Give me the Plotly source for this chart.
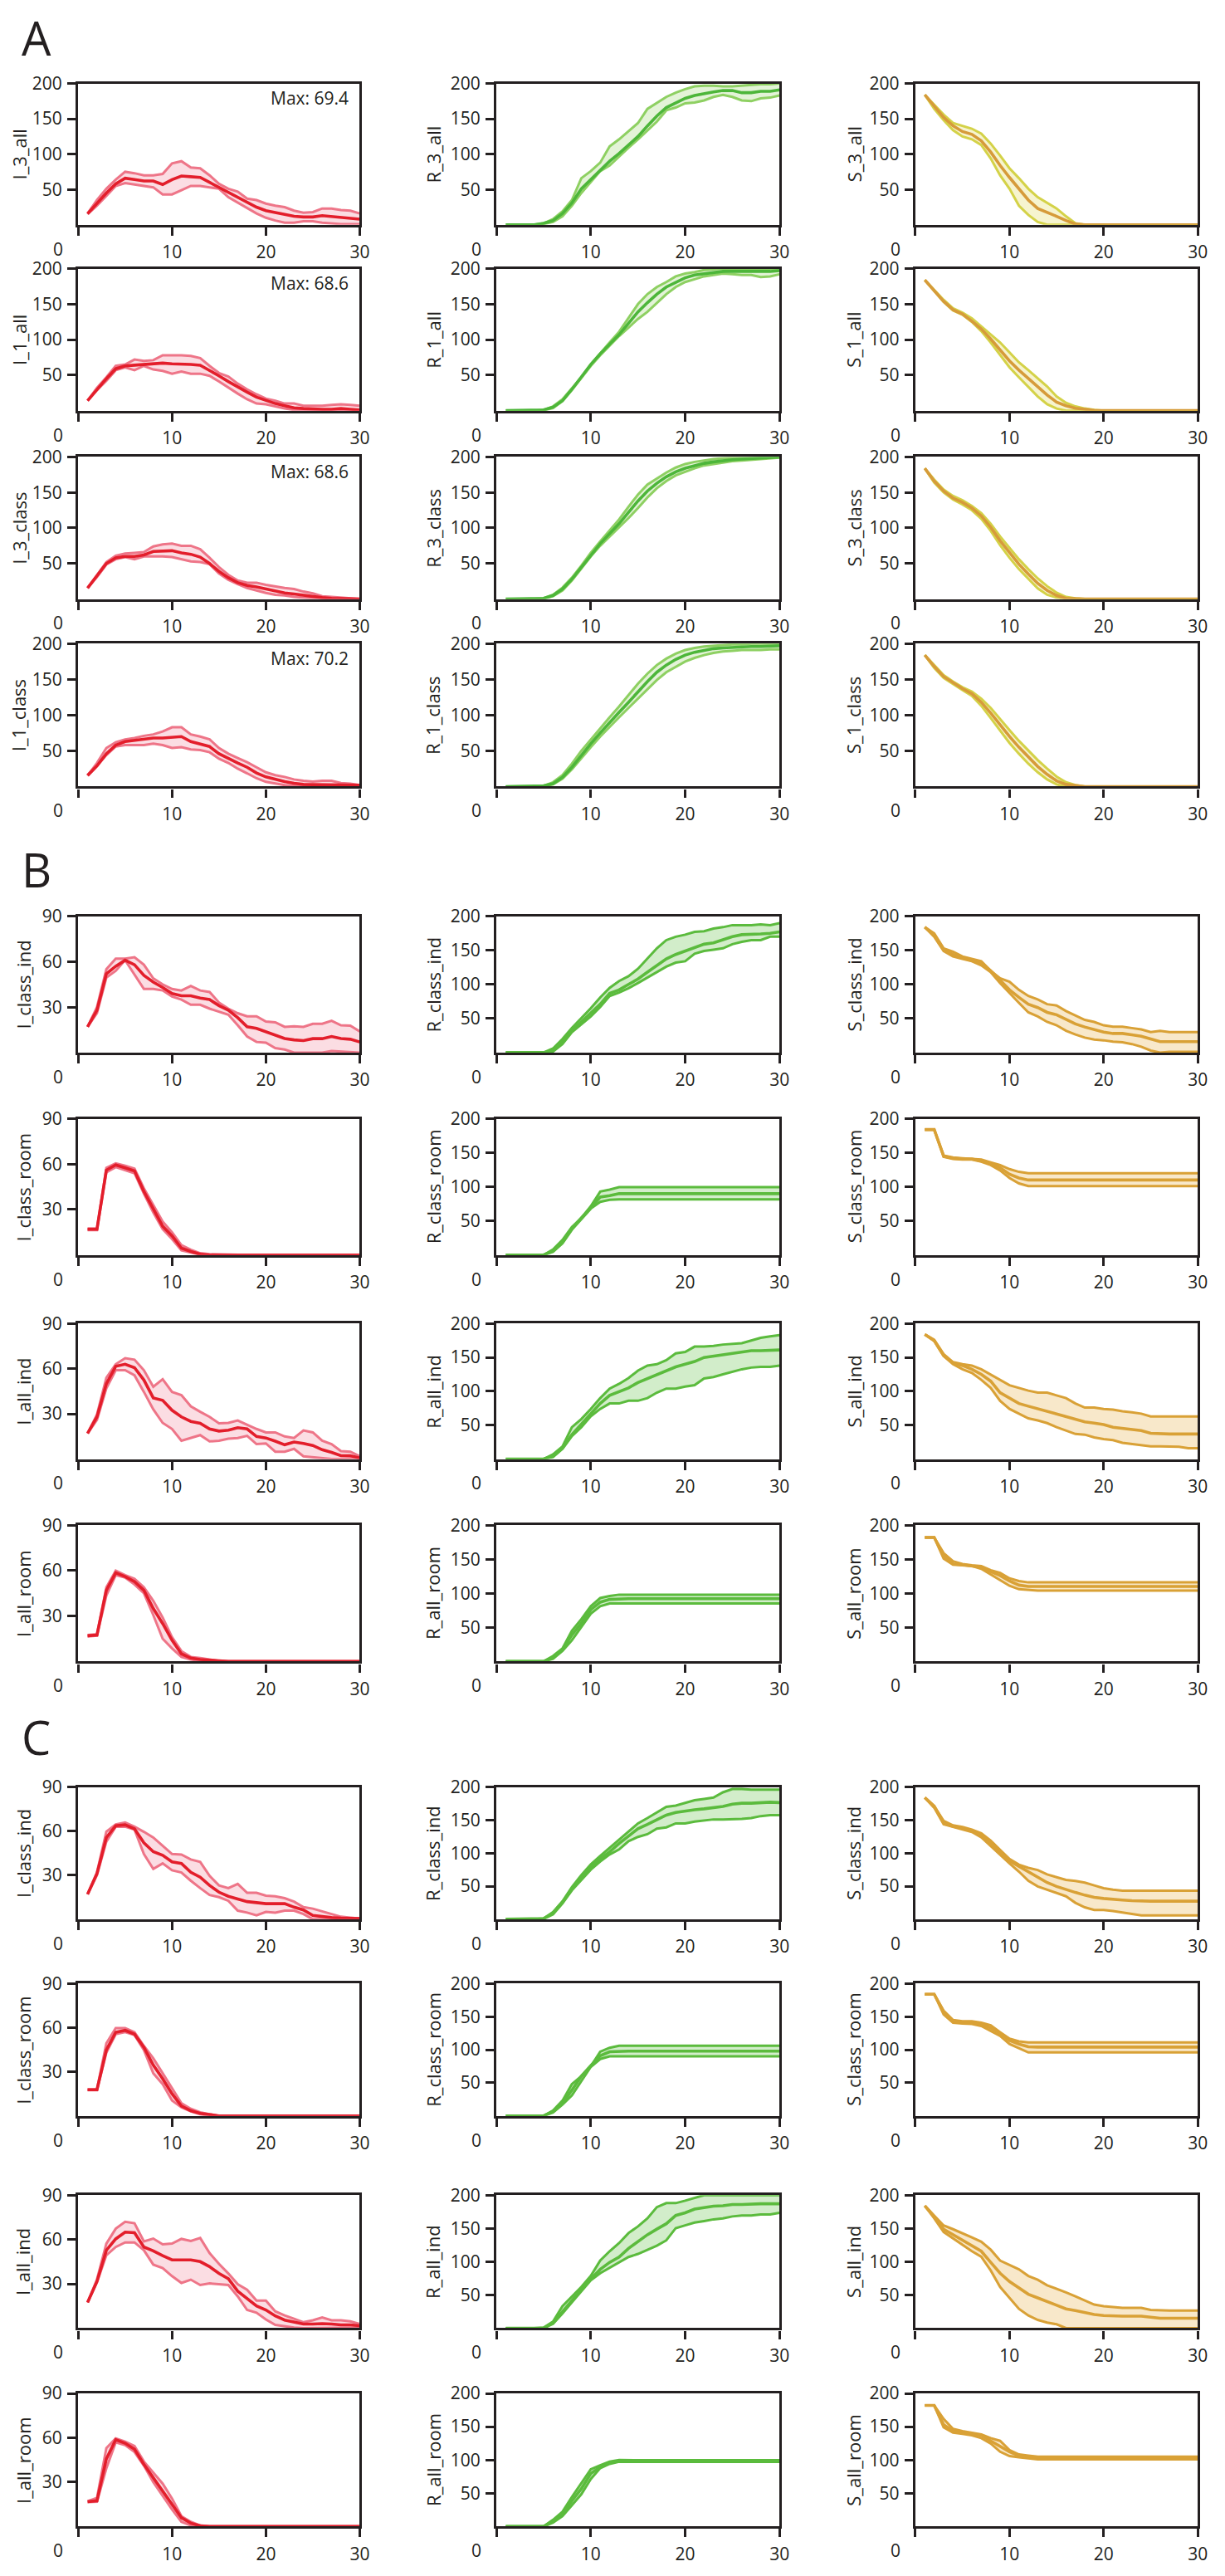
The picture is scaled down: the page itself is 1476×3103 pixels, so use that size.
import plotly.graph_objects as go

W, H = 1476, 3103
FONT = "Open Sans"
INK = "#231F20"
FS = 21

DAYS = list(range(1, 31))

# ---------------- Panel A ----------------
A_I3all_mid = [15.6,31,45,58,66,64,62,62,57,64,69,68,67,60,53,45,38,31,25,20,17,14,12,11,11,13,12,10.5,10,8]
A_I3all_hi = [16,35,51,64,75,73,70,70,72,87,90,81,80,70,58,51,47,37,35,30,27,25,20,17,18,23,23,21,20,16]
A_I3all_lo = [15,27,41,55,59,57,55,53,43,43,49,55,55,53,51,39,31,23,16,10,6,3,3,5,5,3,2,1,1,1]

A_I1all_mid = [14,30,45,59,63,64,65,65,67,66,66,65,64,57,49,41,33,26,19,14,10,7,4,3,2,2,2,3,2,1]
A_I1all_hi = [14,32,47,63,65,72,70,71,78,78,78,77,74,63,53,48,38,30,23,17,14,10,10,7,7,7,8,9,8,7]
A_I1all_lo = [14,29,42,57,61,57,63,58,56,52,55,52,52,49,41,32,24,16,10,9,6,3,1,0,0,0,0,0,0,0]

A_I3class_mid = [15.5,33,50,58,60,60,62,67,68,68,65,63,59,50,39,30,23,19,17,14,11,8.5,7,5,3,2,1,1,0.5,0]
A_I3class_hi = [15.5,34,52,61,64,65,66,74,77,78,75,75,70,58,45,34,26,23,23,20,17.5,15.5,14,10.5,8,4,3,2,1,0]
A_I3class_lo = [15.5,31,48.5,56,59,56,60,60,60,59,56,53,52,49,36,27,21,15.5,12,8.5,6,5,3,2,1,0,0,0,0,0]

A_I1class_mid = [15.5,29,46,58,63,65,66,68,68,69,70,63,60,56,46,39,33,27,19,13.5,10,7,4.6,3,2.7,2.7,2.7,2.7,2.7,2]
A_I1class_hi = [15.5,33,54,62,66,68,71,73,77,83,83,73,70,66,54,46,40,34,27,20,16,13.5,10,8,7,8,8,5,4,2]
A_I1class_lo = [15.5,29,44,56,58,58,58,60,58,54,55,52,51,48,39,33,25,18.5,11.6,6.6,4,2,1,0,0,0,0,0,0,0]

A_R3all_mid = [0,0,0,0,2,6,16,31,51,64,78,90,101,113,125,140,154,166,173,179,183,186,188,190,190,187,187,189,189,191]
A_R3all_hi = [0,0,0,0,2,8,19,35,66,76,88,111,121,133,144,164,173,181,187,192,196,197,197,196,196,197,198,199,199,200]
A_R3all_lo = [0,0,0,0,1,4,12,27,45,60,76,84,97,109,121,133,146,162,166,172,173,176,181,184,181,176,175,179,180,183]

A_R1all_mid = [0,0,0,0,1,5,14,30,47,65,80,94,107,123,139,152,164,174,181,187,191,193,195,196,196,196,196,195,196,197]
A_R1all_hi = [0,0,0,0,1,6,16,31,47,65,81,96,111,131,150,164,174,181,189,193,195,198,199,200,200,200,200,200,200,200]
A_R1all_lo = [0,0,0,0,0.5,3.5,13.5,29,46,63,78,92,105,117,129,139,152,164,174,181,185,189,191,193,192,191,191,188,189,192]

A_R3class_mid = [0,0,0,0,1,5,14,28,45,62,78,92,106,122,138,152,163,172,179,184,188,191,193,195,196,197,198,199,199,200]
A_R3class_hi = [0,0,0,0,1,6,16,30,47,65,81,96,112,130,147,161,170,178,185,190,193,195,197,198,199,200,200,200,200,200]
A_R3class_lo = [0,0,0,0,0.5,4,12,26,43,60,75,88,100,114,128,143,156,166,174,179,184,188,190,192,194,195,196,197,198,199]

A_R1class_mid = [0,0,0,0,1,4,13,27,44,60,75,90,104,118,133,147,160,170,178,184,188,191,193,194,195,196,196,196,197,197]
A_R1class_hi = [0,0,0,0,1,6,16,32,50,66,82,97,112,128,144,158,170,179,186,191,194,196,197,198,199,199,200,200,200,200]
A_R1class_lo = [0,0,0,0,0.5,3,11,24,40,55,70,84,97,110,123,137,149,160,168,175,180,184,187,189,190,191,191,191,192,192]

A_S3all_mid = [184,168,152,140,132,128,119,103,84,67,51,35,23,18,12,6,1,0,0,0,0,0,0,0,0,0,0,0,0,0]
A_S3all_hi = [184,170,156,144,140,136,129,115,98,80,66,51,39,31,23,12,2,0,0,0,0,0,0,0,0,0,0,0,0,0]
A_S3all_lo = [184,164,148,134,125,121,113,94,70,51,27,14,4,0,0,0,0,0,0,0,0,0,0,0,0,0,0,0,0,0]

A_S1all_mid = [184,169,154,142,136,126,115,101,86,70,57,45,34,22,12,7,3.5,1.5,0.5,0,0,0,0,0,0,0,0,0,0,0]
A_S1all_hi = [184,170,156,144,138,130,119,108,96,82,68,57,45,34,20,11,6,3,1,0,0,0,0,0,0,0,0,0,0,0]
A_S1all_lo = [184,168,153,141,135,125,112,96,78,61,47,34,20,9,3,0,0,0,0,0,0,0,0,0,0,0,0,0,0,0]

A_S3class_mid = [184,166,152,142,136,128,117,101,82,65,49,35,22,12,5,1,0,0,0,0,0,0,0,0,0,0,0,0,0,0]
A_S3class_hi = [184,168,154,145,139,131,121,106,88,72,56,42,29,18,9,3,1,0,0,0,0,0,0,0,0,0,0,0,0,0]
A_S3class_lo = [184,164,150,140,133,125,113,96,76,58,42,28,15,6,2,0,0,0,0,0,0,0,0,0,0,0,0,0,0,0]

A_S1class_mid = [184,168,154,145,137,130,118,103,86,70,55,41,28,17,8,3,1,0,0,0,0,0,0,0,0,0,0,0,0,0]
A_S1class_hi = [184,170,156,147,139,133,123,110,94,79,64,50,37,25,14,6,2,0,0,0,0,0,0,0,0,0,0,0,0,0]
A_S1class_lo = [184,166,152,143,135,127,113,96,78,61,46,32,20,10,3,0,0,0,0,0,0,0,0,0,0,0,0,0,0,0]

A_MAX = ["Max: 69.4", "Max: 68.6", "Max: 68.6", "Max: 70.2"]

# ---------------- Panel B ----------------
B_Iclassind_mid = [17,28,52,57,61,58,51,46.5,43,39,37.5,37.5,36,35,31,28,23,17,16,13.6,11.5,9.3,8.4,7.9,9.2,9.2,10.6,9.3,8.8,7]
B_Iclassind_hi = [17,30,55,62,62,63,58,49,45,42,41,44,41,40,33,29,26,24,24,20.5,20,17,17.4,17,19,19,21,18,17.8,14]
B_Iclassind_lo = [17,26,49.5,54,61,51.5,42,42,41,37,35,31.6,31.6,29,27,25,18,10.6,7,6.5,3,2,0,0,0.4,0,1,0.7,0.4,0]

B_Iclassroom_mid = [17,17,56,59.5,57.5,55.5,42,30,19,12.6,4.5,2.3,0.5,0,0,0,0,0,0,0,0,0,0,0,0,0,0,0,0,0]
B_Iclassroom_hi = [17.5,17.5,57.5,60.5,59,57,44,33,22,15,6.5,3.5,1.2,0.5,0.3,0,0,0,0,0,0,0,0,0,0,0,0,0,0,0]
B_Iclassroom_lo = [16.5,16.5,54.5,58,56,54,40.5,28,17,10.5,3,1.5,0.2,0,0,0,0,0,0,0,0,0,0,0,0,0,0,0,0,0]

B_Iallind_mid = [17,28,50,61.6,63,60.7,52.5,40.6,39,32.4,28,25,23.8,20,18.6,19.2,20.8,20,15,14,11.9,9.5,11.3,10.4,9,6.2,4.4,2.2,2.2,0.7]
B_Iallind_hi = [17,29.6,54,63,67,66,59,48,53,44.6,42.4,35,31.4,28,23.8,24,25.6,22.7,20,17.7,17.7,15,14,19,17.7,12.2,9.9,5.3,4.9,1.8]
B_Iallind_lo = [17,26,47,59,59,55.6,44.6,33,24,20,12.2,14,15.9,11.7,12.2,13.5,14,15.4,9.9,10.4,4.9,4.9,6.8,1.8,1.3,0.4,0,0,0.4,0]

B_Iallroom_mid = [17,17.4,47,58.5,56,52.7,47,35,25,14,5,2.2,1.3,0.7,0.4,0,0,0,0,0,0,0,0,0,0,0,0,0,0,0]
B_Iallroom_hi = [17.5,18,49,60,57,54.5,49,40,29,16,6.8,3,2.2,1.3,0.4,0,0,0,0,0,0,0,0,0,0,0,0,0,0,0]
B_Iallroom_lo = [16.5,17,43.5,57,55.4,50.8,45,30.6,15,8.6,3,1.3,0.4,0,0,0,0,0,0,0,0,0,0,0,0,0,0,0,0,0]

B_Rclassind_mid = [0,0,0,0,0,3,16,32,45,59,71,87,92,100,108,118,128,137.5,144,149,155,159,161,166,170,173,173,174,175,177]
B_Rclassind_hi = [0,0,0,0,0,6,20,36,50,65,81,95,105,112,123,137.5,153,165,170,173,177,178,182,184,187,187,187,188,187,190]
B_Rclassind_lo = [0,0,0,0,0,1.5,12.5,30,42,53,67,83,88,94.5,102,110,118,126,132,134,145,149,151,153,159,162.5,165,165,170,170]

B_Sclassind_mid = [184,172.6,150.8,144,139,135,131,120,106,92,81,71,66,59,55.5,49,42,37.5,33.6,30,28,28,26,24,20,16,16,16,16,16]
B_Sclassind_hi = [184,175,153,148,141,137.5,134,120,109,104,92,83,78,71,69,61,54,48,45,40,38,38,36,34,30,32,30,30,30,30]
B_Sclassind_lo = [184,170,149,141,137.5,134,128,118,102,87,73,59,53,45,40,32,26.5,22,19,18,16,15,12.5,8.6,3,0,1,1,1,1]

B_Rclassroom_mid = [0,0,0,0,0,6,19,39,54,70,85,87,90,90,90,90,90,90,90,90,90,90,90,90,90,90,90,90,90,90]
B_Rclassroom_hi = [0,0,0,0,0,8,22,41,54,71.5,93,96,99.5,99.5,99.5,99.5,99.5,99.5,99.5,99.5,99.5,99.5,99.5,99.5,99.5,99.5,99.5,99.5,99.5,99.5]
B_Rclassroom_lo = [0,0,0,0,0,4.5,17,37,53,68,78,81,81.5,81.5,81.5,81.5,81.5,81.5,81.5,81.5,81.5,81.5,81.5,81.5,81.5,81.5,81.5,81.5,81.5,81.5]

B_Sclassroom_mid = [184,184,145,142,141,141,138,134,128,118.5,113,110,110,110,110,110,110,110,110,110,110,110,110,110,110,110,110,110,110,110]
B_Sclassroom_hi = [184,184,146,143,142,141,140,136,132,126,122,120,120,120,120,120,120,120,120,120,120,120,120,120,120,120,120,120,120,120]
B_Sclassroom_lo = [184,184,144,141,140,140,137,132,124,113,105,101,101,101,101,101,101,101,101,101,101,101,101,101,101,101,101,101,101,101]

B_Rallind_mid = [0,0,0,0,0,4.6,16,36,51,67,82,94,99,105,113,119,125,131,136,140,144,150,152,154,157,158,160,160,160,161]
B_Rallind_hi = [0,0,0,0,0,7,18.6,47,59,74,90,104,111,119.6,130.5,138,140,146,156,158,166,166,167,169,170,171,175,179,181,183]
B_Rallind_lo = [0,0,0,0,0,3,15,34,47,63,74,82,82,86,86,90,98,104,104,107,109,119,121,125,129,132.5,135,136,136,138]

B_Sallind_mid = [184,175,153,142,138,132.5,125,115,98,90,82,78,74,70.5,66.7,63,59,55,53,51,47,45,43,42,38,37,37,37,37,37]
B_Sallind_hi = [184,176,155,143,140,138,132.5,125,117,109,105,101,98,98,94,90,82,76,76,74,73,70.5,69,67,63,63,63,63,63,63]
B_Sallind_lo = [184,174,152,140,132.5,127,117,105,86,74,67,60,57,53,47,42,37,36,32,29.5,28,24,22,20,18.6,18.6,18.6,18,16,16]

B_Rallroom_mid = [0,0,0,0,0,6,17,39,56,76,87,91,92,92,92,92,92,92,92,92,92,92,92,92,92,92,92,92,92,92]
B_Rallroom_hi = [0,0,0,0,0,8,19,45,62,81,93,96,98,98,98,98,98,98,98,98,98,98,98,98,98,98,98,98,98,98]
B_Rallroom_lo = [0,0,0,0,0,4,15.5,31,50,70,81,85,85,85,85,85,85,85,85,85,85,85,85,85,85,85,85,85,85,85]

B_Sallroom_mid = [182,182,155,143,142,140,138,132,126,118,112,110,110,110,110,110,110,110,110,110,110,110,110,110,110,110,110,110,110,110]
B_Sallroom_hi = [182,182,159,147,143,141,140,134,130,122,118,116,116,116,116,116,116,116,116,116,116,116,116,116,116,116,116,116,116,116]
B_Sallroom_lo = [182,182,151,142,141,140,136,128,120,111,106,105,104,104,104,104,104,104,104,104,104,104,104,104,104,104,104,104,104,104]

# ---------------- Panel C ----------------
C_Iclassind_mid = [17,31,55.6,63.6,64.3,61.5,52,46,43.5,39,38,32,28.6,23,18.4,15.6,13.8,12,11.3,10.6,10.6,10.6,8.2,6.3,2.6,1.7,1.1,0.7,0.5,0.5]
C_Iclassind_hi = [17,32,59.6,64.5,65.8,63,59.5,55.6,50,44.4,44,40.7,39,29.5,23,21.2,24,18,18,16,15.6,14.3,12,8.2,7.2,5.4,3.5,1.7,1.1,0.5]
C_Iclassind_lo = [17,30,52.8,63,63,61,44.4,34.2,38,33.3,31.8,26.2,21.2,16.5,15,12.5,5.8,4.5,2.6,5,4.5,5.8,5.8,3.5,0,0,0,0.5,0.5,0.5]

C_Iclassroom_mid = [17.8,17.8,44.8,56.9,58.2,55.6,46.7,34.6,25.3,15,6.7,3.5,1.7,0.6,0,0,0,0,0,0,0,0,0,0,0,0,0,0,0,0]
C_Iclassroom_hi = [18,18,49.4,59.7,59.7,56.9,47.6,39.2,29,18.8,8.6,4.8,2.4,1.1,0,0,0,0,0,0,0,0,0,0,0,0,0,0,0,0]
C_Iclassroom_lo = [17.5,17.5,43,55.6,57,55,44.8,29,21.6,10.4,5.8,3,1.1,0,0,0,0,0,0,0,0,0,0,0,0,0,0,0,0,0]

C_Iallind_mid = [17.4,31.6,52.7,60.4,65,64.6,54.9,52.3,49,46.2,46.2,46.2,45,41.6,37,33.4,25,20,15,12.3,8.3,5.5,4,2.8,2.8,3.1,2.8,2.2,2.2,1.7]
C_Iallind_hi = [17.4,33,57.2,67.3,72,71,58.7,60.6,56.7,57.2,60.4,59,61,50.8,43.5,37,29.7,26,18.7,18.7,11.4,8.6,6.4,4,5.3,7.3,5.3,5.3,4.6,2.8]
C_Iallind_lo = [17.4,31,49.4,54.9,58,58,52.7,43,40.7,35.2,30.6,32.8,29.2,30.3,29.7,29.2,21.5,12.3,10.5,5.9,2.2,1.3,0.4,0,0,0,0,0,0,0.4]

C_Iallroom_mid = [16.7,17.4,45.7,58.7,56.3,52.2,42,32.8,24.4,15.2,5.9,2.2,0.4,0,0,0,0,0,0,0,0,0,0,0,0,0,0,0,0,0]
C_Iallroom_hi = [17,19.3,53,59.6,57.4,54.4,43.9,36.5,29,18.9,6.9,3.1,0.7,0,0,0,0,0,0,0,0,0,0,0,0,0,0,0,0,0]
C_Iallroom_lo = [16.5,16.7,39.3,56.9,55,50.4,41.1,30,20.7,11.5,3.1,0.7,0,0,0,0,0,0,0,0,0,0,0,0,0,0,0,0,0,0]

C_Rclassind_mid = [0,0,0,0,1,9,25.5,46,62.6,79,91.5,102,114.6,126,137,143.5,151,157.5,161.6,164,165.7,167,169,170.6,174,175.5,175.5,176.4,177,176.4]
C_Rclassind_hi = [0,0,0,0,1,10.7,27,48.6,66.8,83,95.6,108,120.5,132.7,145,153,161.6,170,172,176.4,180,182,184,192,197,197,196,196,196,196]
C_Rclassind_lo = [0,0,0,0,0.5,7.4,24,43.7,60,75,87.4,98,105.5,118,124.5,128.6,137,139,145,145,147.6,149,151,151,151,151.7,153,156,157.5,157.5]

C_Sclassind_mid = [184,171,146,140.5,138,134,127,115.7,101,88.4,80,72,63.6,55.4,49.6,44.6,40.5,36.4,33,31.4,29.8,29,28,27.3,27.3,27.3,27.3,27.3,27.3,27.3]
C_Sclassind_hi = [184,171,148.8,142,139.7,135.5,130,119,105,91,82.6,77.7,74.4,67.8,63.6,59.5,58,55.4,51.2,47,44.6,43,43,43,43,43,43,43,43,43]
C_Sclassind_lo = [184,168.6,143.8,139.7,135.5,132,124,110.7,96.7,84.3,72,58,49.6,44.6,40.5,34.7,24.8,18,14,14,12.4,10,7.4,5.8,5.8,5.8,5.8,5.8,5.8,5.8]

C_Rclassroom_mid = [0,0,0,0,0,6.6,19,39,60,76,91,97,98,98,98,98,98,98,98,98,98,98,98,98,98,98,98,98,98,98]
C_Rclassroom_hi = [0,0,0,0,0,8,23,48,60,75,97,103,106,106,106,106,106,106,106,106,106,106,106,106,106,106,106,106,106,106]
C_Rclassroom_lo = [0,0,0,0,0,5,17,31,52,74,86,90,90,90,90,90,90,90,90,90,90,90,90,90,90,90,90,90,90,90]

C_Sclassroom_mid = [184,184,157.5,143.7,141,141,139,133,125,114,108.6,104.5,104,104,104,104,104,104,104,104,104,104,104,104,104,104,104,104,104,104]
C_Sclassroom_hi = [184,184,159,145,143,143,141,137,126.5,116.7,112.6,111,111,111,111,111,111,111,111,111,111,111,111,111,111,111,111,111,111,111]
C_Sclassroom_lo = [184,184,153.5,141,139.6,139,136,129,121,108.6,102,96,96,96,96,96,96,96,96,96,96,96,96,96,96,96,96,96,96,96]

C_Rallind_mid = [0,0,0,0,0,8,25,41,58,74,88.4,99,107,120,130,140.5,149,157,169.4,173.5,179,181.8,183.5,184,186,186,187,187,187,187]
C_Rallind_hi = [0,0,0,0,1,10,33,47,62,78.5,101.6,115.7,128,143,153,165,182,188,188,191.7,195.8,200,200,200,200,200,200,200,200,200]
C_Rallind_lo = [0,0,0,0,0,6.6,22,39,55,72,82.6,91,99,107,111.6,118,124,132,150.4,154.5,158.7,161,163.6,165,168,169.4,169.4,171,171,173.5]

C_Sallind_mid = [184,167.7,148.8,140.5,132,124,115.7,99,82.6,70,60,51,45.5,39.6,34.7,29,26.4,23,20.6,19,18,18,18,18,16.5,15,15,15,15,15]
C_Sallind_hi = [184,169.4,154.5,148.8,143,136.6,130,118,101.6,95,88.4,78.5,72.7,64.5,59.5,53.7,47.9,41.3,35.5,33,31.4,30.6,30.6,30.6,27.3,26.4,26.4,26.4,26.4,26.4]
C_Sallind_lo = [184,165.3,144.6,134.7,125.6,115.7,107.4,86.8,62,45.5,29,19,12.4,8.3,5.8,0,0,0,0,0,0,0,0,0,0,0,0,0,0,0]

C_Rallroom_mid = [0,0,0,0,0,7.4,18,38.5,56.6,79.5,89.3,96,98.4,98,98,98,98,98,98,98,98,98,98,98,98,98,98,98,98,98]
C_Rallroom_hi = [0,0,0,0,0,10,22,44.3,64.8,86,91.8,97.5,100,99.5,99.5,99.5,99.5,99.5,99.5,99.5,99.5,99.5,99.5,99.5,99.5,99.5,99.5,99.5,99.5,99.5]
C_Rallroom_lo = [0,0,0,0,0,5.7,15.6,32,48.4,71.3,87.7,94,97.5,97,97,97,97,97,97,97,97,97,97,97,97,97,97,97,97,97]

C_Sallroom_mid = [182,182,153,143.4,141,139.3,137,128.7,120.5,112.3,106.6,104,103,103,103,103,103,103,103,103,103,103,103,103,103,103,103,103,103,103]
C_Sallroom_hi = [182,182,161.5,146.7,143.4,141,138.5,132.8,128.7,114.8,108.2,106.6,105,105,105,105,105,105,105,105,105,105,105,105,105,105,105,105,105,105]
C_Sallroom_lo = [182,182,149,141,139.3,137,132.8,124.6,112.3,105.7,104,102.5,101,101,101,101,101,101,101,101,101,101,101,101,101,101,101,101,101,101]

# ---------------- layout geometry (pixels) ----------------
COLS = [(95, 437), (603, 947), (1112, 1455)]
ROWS = {
    "A": [(86, 257), (310, 482), (538, 710), (764, 937)],
    "B": [(1094, 1259), (1339, 1504), (1587, 1751), (1831, 1996)],
    "C": [(2148, 2308), (2386, 2546), (2642, 2803), (2882, 3043)],
}
LETTER_Y = {"A": 30, "B": 1037, "C": 2087}
TITLE_X = {"A": [23, 526, 1037], "B": [28, 526, 1037], "C": [28, 526, 1037]}

STYLE = {
    "I": dict(main="#E31E2B", band="#EE7588", fill="#FBDDE3"),
    "RA": dict(main="#4DB63A", band="#8ED062", fill="#E3F3D7"),
    "SA": dict(main="#D69B3A", band="#D4D248", fill="#F6F4CF"),
    "RB": dict(main="#5BBB3D", band="#5BBB3D", fill="#D2EDCA"),
    "SB": dict(main="#D9A136", band="#D9A136", fill="#F8E8CA"),
}

PLOTS = [
    ("A", 0, 0, "I_3_all", A_I3all_lo, A_I3all_mid, A_I3all_hi, "I"),
    ("A", 0, 1, "R_3_all", A_R3all_lo, A_R3all_mid, A_R3all_hi, "RA"),
    ("A", 0, 2, "S_3_all", A_S3all_lo, A_S3all_mid, A_S3all_hi, "SA"),
    ("A", 1, 0, "I_1_all", A_I1all_lo, A_I1all_mid, A_I1all_hi, "I"),
    ("A", 1, 1, "R_1_all", A_R1all_lo, A_R1all_mid, A_R1all_hi, "RA"),
    ("A", 1, 2, "S_1_all", A_S1all_lo, A_S1all_mid, A_S1all_hi, "SA"),
    ("A", 2, 0, "I_3_class", A_I3class_lo, A_I3class_mid, A_I3class_hi, "I"),
    ("A", 2, 1, "R_3_class", A_R3class_lo, A_R3class_mid, A_R3class_hi, "RA"),
    ("A", 2, 2, "S_3_class", A_S3class_lo, A_S3class_mid, A_S3class_hi, "SA"),
    ("A", 3, 0, "I_1_class", A_I1class_lo, A_I1class_mid, A_I1class_hi, "I"),
    ("A", 3, 1, "R_1_class", A_R1class_lo, A_R1class_mid, A_R1class_hi, "RA"),
    ("A", 3, 2, "S_1_class", A_S1class_lo, A_S1class_mid, A_S1class_hi, "SA"),

    ("B", 0, 0, "I_class_ind", B_Iclassind_lo, B_Iclassind_mid, B_Iclassind_hi, "I"),
    ("B", 0, 1, "R_class_ind", B_Rclassind_lo, B_Rclassind_mid, B_Rclassind_hi, "RB"),
    ("B", 0, 2, "S_class_ind", B_Sclassind_lo, B_Sclassind_mid, B_Sclassind_hi, "SB"),
    ("B", 1, 0, "I_class_room", B_Iclassroom_lo, B_Iclassroom_mid, B_Iclassroom_hi, "I"),
    ("B", 1, 1, "R_class_room", B_Rclassroom_lo, B_Rclassroom_mid, B_Rclassroom_hi, "RB"),
    ("B", 1, 2, "S_class_room", B_Sclassroom_lo, B_Sclassroom_mid, B_Sclassroom_hi, "SB"),
    ("B", 2, 0, "I_all_ind", B_Iallind_lo, B_Iallind_mid, B_Iallind_hi, "I"),
    ("B", 2, 1, "R_all_ind", B_Rallind_lo, B_Rallind_mid, B_Rallind_hi, "RB"),
    ("B", 2, 2, "S_all_ind", B_Sallind_lo, B_Sallind_mid, B_Sallind_hi, "SB"),
    ("B", 3, 0, "I_all_room", B_Iallroom_lo, B_Iallroom_mid, B_Iallroom_hi, "I"),
    ("B", 3, 1, "R_all_room", B_Rallroom_lo, B_Rallroom_mid, B_Rallroom_hi, "RB"),
    ("B", 3, 2, "S_all_room", B_Sallroom_lo, B_Sallroom_mid, B_Sallroom_hi, "SB"),

    ("C", 0, 0, "I_class_ind", C_Iclassind_lo, C_Iclassind_mid, C_Iclassind_hi, "I"),
    ("C", 0, 1, "R_class_ind", C_Rclassind_lo, C_Rclassind_mid, C_Rclassind_hi, "RB"),
    ("C", 0, 2, "S_class_ind", C_Sclassind_lo, C_Sclassind_mid, C_Sclassind_hi, "SB"),
    ("C", 1, 0, "I_class_room", C_Iclassroom_lo, C_Iclassroom_mid, C_Iclassroom_hi, "I"),
    ("C", 1, 1, "R_class_room", C_Rclassroom_lo, C_Rclassroom_mid, C_Rclassroom_hi, "RB"),
    ("C", 1, 2, "S_class_room", C_Sclassroom_lo, C_Sclassroom_mid, C_Sclassroom_hi, "SB"),
    ("C", 2, 0, "I_all_ind", C_Iallind_lo, C_Iallind_mid, C_Iallind_hi, "I"),
    ("C", 2, 1, "R_all_ind", C_Rallind_lo, C_Rallind_mid, C_Rallind_hi, "RB"),
    ("C", 2, 2, "S_all_ind", C_Sallind_lo, C_Sallind_mid, C_Sallind_hi, "SB"),
    ("C", 3, 0, "I_all_room", C_Iallroom_lo, C_Iallroom_mid, C_Iallroom_hi, "I"),
    ("C", 3, 1, "R_all_room", C_Rallroom_lo, C_Rallroom_mid, C_Rallroom_hi, "RB"),
    ("C", 3, 2, "S_all_room", C_Sallroom_lo, C_Sallroom_mid, C_Sallroom_hi, "SB"),
]

X_TICKS = [0, 10, 20, 30]
X_TICKTEXT = ["", "10", "20", "30"]
Y200_TICKS = [50, 100, 150, 200]
Y90_TICKS = [30, 60, 90]

fig = go.Figure()
annotations = []
layout_axes = {}

for k, (panel, r, c, title, lo, mid, hi, sty) in enumerate(PLOTS, start=1):
    st = STYLE[sty]
    xa = "x" if k == 1 else f"x{k}"
    ya = "y" if k == 1 else f"y{k}"
    top, bot = ROWS[panel][r]
    left, right = COLS[c]

    fig.add_trace(go.Scatter(x=DAYS, y=lo, mode="lines", xaxis=xa, yaxis=ya,
                             line=dict(color=st["band"], width=3), hoverinfo="skip"))
    fig.add_trace(go.Scatter(x=DAYS, y=hi, mode="lines", xaxis=xa, yaxis=ya, fill="tonexty",
                             fillcolor=st["fill"], line=dict(color=st["band"], width=3),
                             hoverinfo="skip"))
    fig.add_trace(go.Scatter(x=DAYS, y=mid, mode="lines", xaxis=xa, yaxis=ya,
                             line=dict(color=st["main"], width=3.6)))

    is_small = (sty == "I" and panel != "A")
    yr = [0, 90] if is_small else [0, 200]
    yt = Y90_TICKS if is_small else Y200_TICKS

    common = dict(showline=True, linewidth=3.4, linecolor=INK, mirror=True, showgrid=False,
                  zeroline=False, ticks="outside", ticklen=10, tickwidth=3.4, tickcolor=INK,
                  tickfont=dict(family=FONT, size=FS, color=INK), fixedrange=True)
    layout_axes["xaxis" if k == 1 else f"xaxis{k}"] = dict(
        domain=[left / W, right / W], anchor=ya, range=[0, 30],
        tickvals=X_TICKS, ticktext=X_TICKTEXT, ticklabelstandoff=2, **common)
    layout_axes["yaxis" if k == 1 else f"yaxis{k}"] = dict(
        domain=[1 - bot / H, 1 - top / H], anchor=xa, range=yr,
        tickvals=yt, ticklabelstandoff=2, **common)

    annotations.append(dict(text=title, xref="paper", yref="paper",
                            x=TITLE_X[panel][c] / W, y=1 - (top + bot) / 2 / H,
                            xanchor="center", yanchor="middle", textangle=-90,
                            showarrow=False, font=dict(family=FONT, size=FS + 1, color=INK)))
    annotations.append(dict(text="0", xref=xa, yref="paper", x=0, xshift=-24,
                            y=1 - (bot + 29) / H, xanchor="center", yanchor="middle",
                            showarrow=False, font=dict(family=FONT, size=FS, color=INK)))
    if panel == "A" and c == 0:
        annotations.append(dict(text=A_MAX[r], xref="paper", yref="paper",
                                x=425 / W, y=1 - (top + 18) / H, xanchor="right",
                                yanchor="middle", showarrow=False,
                                font=dict(family=FONT, size=FS, color=INK)))

for letter, yc in LETTER_Y.items():
    annotations.append(dict(text=letter, xref="paper", yref="paper", x=24 / W,
                            y=1 - yc / H, xanchor="left", yanchor="middle",
                            showarrow=False, font=dict(family=FONT, size=56, color=INK)))

fig.update_layout(width=W, height=H, margin=dict(l=0, r=0, t=0, b=0),
                  paper_bgcolor="white", plot_bgcolor="white", showlegend=False,
                  annotations=annotations, font=dict(family=FONT, color=INK),
                  **layout_axes)

fig.write_html("out.html", config={"displayModeBar": False},
               post_script="document.body.style.margin='0';document.body.style.overflow='hidden';")
